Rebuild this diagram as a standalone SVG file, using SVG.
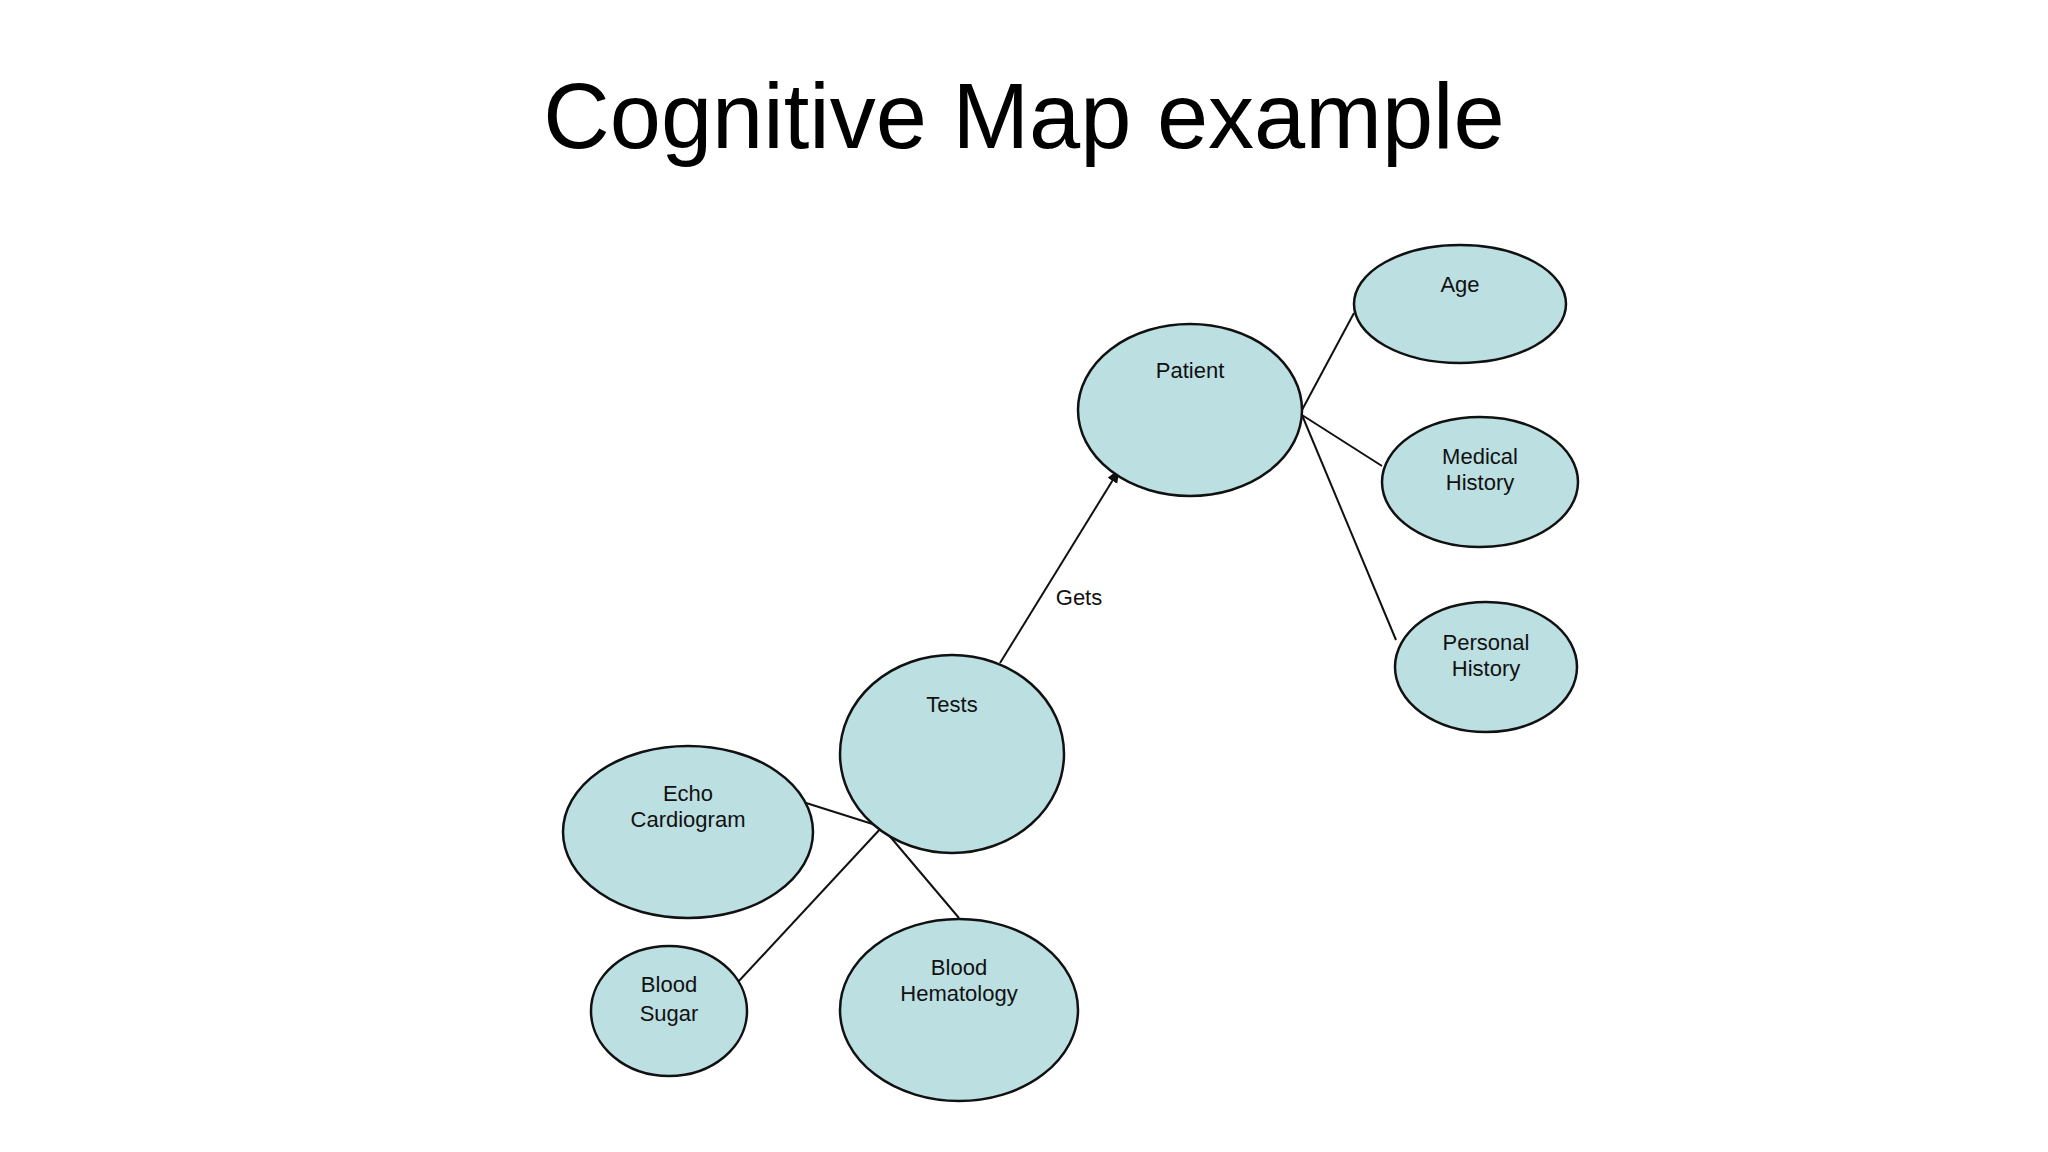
<svg xmlns="http://www.w3.org/2000/svg" width="2048" height="1152" viewBox="0 0 2048 1152">
<defs>
<style>
.n{fill:#bcdfe2;stroke:#111;stroke-width:2.5}
.t{font-family:"Liberation Sans",Arial,sans-serif;font-size:22px;fill:#111;text-anchor:middle}
.c line{stroke:#111;stroke-width:2}
</style>
<marker id="a" viewBox="0 0 10 10" refX="9" refY="5" markerWidth="7" markerHeight="7" orient="auto"><path d="M0,1 L10,5 L0,9 z" fill="#111"/></marker>
</defs>
<rect width="2048" height="1152" fill="#fff"/>
<text x="1024" y="148" font-family="Liberation Sans,Arial,sans-serif" font-size="92" text-anchor="middle" fill="#000">Cognitive Map example</text>
<g class="c" id="connectors">
<line x1="1302" y1="410" x2="1354" y2="313"/>
<line x1="1302" y1="415" x2="1382" y2="466"/>
<line x1="1302" y1="415" x2="1396" y2="640"/>
<line x1="1000" y1="663" x2="1119" y2="470" marker-end="url(#a)"/>
<line x1="803" y1="802" x2="882" y2="827"/>
<line x1="882" y1="827" x2="738" y2="982"/>
<line x1="882" y1="827" x2="959" y2="918"/>
<text class="t" x="1079" y="605">Gets</text>
</g>
<g id="age"><ellipse class="n" cx="1460" cy="304" rx="106" ry="59"/><text class="t" x="1460" y="292">Age</text></g>
<g id="patient"><ellipse class="n" cx="1190" cy="410" rx="112" ry="86"/><text class="t" x="1190" y="378">Patient</text></g>
<g id="medical"><ellipse class="n" cx="1480" cy="482" rx="98" ry="65"/><text class="t" x="1480" y="464">Medical</text><text class="t" x="1480" y="490">History</text></g>
<g id="personal"><ellipse class="n" cx="1486" cy="667" rx="91" ry="65"/><text class="t" x="1486" y="650">Personal</text><text class="t" x="1486" y="676">History</text></g>
<g id="tests"><ellipse class="n" cx="952" cy="754" rx="112" ry="99"/><text class="t" x="952" y="712">Tests</text></g>
<g id="echo"><ellipse class="n" cx="688" cy="832" rx="125" ry="86"/><text class="t" x="688" y="801">Echo</text><text class="t" x="688" y="827">Cardiogram</text></g>
<g id="sugar"><ellipse class="n" cx="669" cy="1011" rx="78" ry="65"/><text class="t" x="669" y="992">Blood</text><text class="t" x="669" y="1021">Sugar</text></g>
<g id="hema"><ellipse class="n" cx="959" cy="1010" rx="119" ry="91"/><text class="t" x="959" y="975">Blood</text><text class="t" x="959" y="1001">Hematology</text></g>
</svg>
